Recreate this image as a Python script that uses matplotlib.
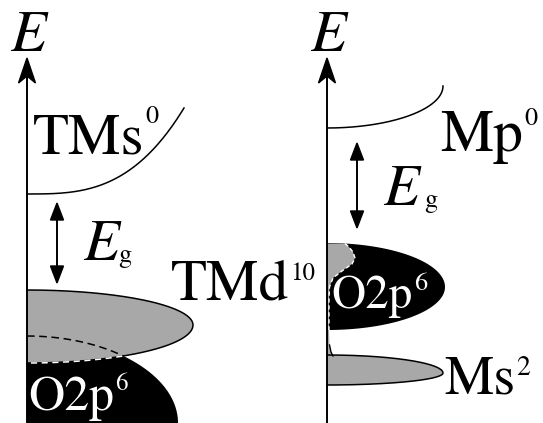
import numpy as np
import matplotlib.pyplot as plt
from matplotlib.patches import Polygon
from matplotlib import font_manager

SERIF_CANDIDATES = ['TeX Gyre Termes', 'STIX Two Text', 'Liberation Serif', 'DejaVu Serif']

# --- schematic values (pixel units, y grows downward) ---
axis_x = [27, 327]          # energy axes of the two panels
axis_tip_y = 58
bottom_y = 423

cb_min_y = [194, 128]       # conduction band minimum
cb_end_x = [184, 443]
cb_end_y = [108, 86]

gap_x = [57, 357]           # E_g double arrows
gap_top = [203, 143]
gap_bottom = [283, 228]

# bands: top edge, tip level, bottom edge, reach (x of tip)
tmd_band = [290, 325, 363, 193]        # TM d10, gray, left
o2p_right = [243, 287, 330, 445]       # O 2p6, black, right
ms_band = [355, 373, 385, 443]         # M s2, gray, right
# O 2p6 left: quarter ellipse standing on the bottom edge
o2p_l_top, o2p_l_reach = 336, 178
# M s weight mixed into the O 2p band (gray profile along right axis)
ms_dos_y = [243.5, 247, 252, 258, 264, 271, 278, 287, 300, 330, 345, 352, 356]
ms_dos_w = [18, 22, 26, 28, 25, 15, 6, 2.5, 2, 2, 2.5, 4, 6]

MAIN = 42.5
SUP = 19


def font_file(style):
    for name in SERIF_CANDIDATES:
        for f in font_manager.fontManager.ttflist:
            if f.name == name and f.style == style and f.weight in (400, 'normal', 'regular'):
                return f.fname
    return None


FILES = {st: font_file(st) for st in ('normal', 'italic')}


def fp(size, style='normal'):
    if FILES[style]:
        return font_manager.FontProperties(fname=FILES[style], size=size)
    return font_manager.FontProperties(family='serif', style=style, size=size)


fig = plt.figure(figsize=(5.43, 4.23), dpi=100)
ax = fig.add_axes([0, 0, 1, 1])
ax.set_xlim(0, 543)
ax.set_ylim(bottom_y, 0)
ax.axis('off')


def band_shape(x0, band, n=150):
    top, tip, bot, reach = band
    s = np.linspace(0, 1, n)
    ux = x0 + (reach - x0) * np.sin(s * np.pi / 2)
    uy = tip - (tip - top) * np.cos(s * np.pi / 2)
    lx = ux[::-1]
    ly = tip + (bot - tip) * np.cos(s[::-1] * np.pi / 2)
    return np.r_[ux, lx[1:]], np.r_[uy, ly[1:]]


# ---------- left panel ----------
x0 = axis_x[0]
s = np.linspace(0, 1, 300)
bx = x0 + (o2p_l_reach - x0) * np.sin(s * np.pi / 2)
by = bottom_y - (bottom_y - o2p_l_top) * np.cos(s * np.pi / 2)
ax.fill(np.r_[x0, bx, x0], np.r_[bottom_y, by, bottom_y], color='black', lw=0, zorder=1)

gx, gy = band_shape(x0, tmd_band)
ax.fill(np.r_[x0, gx, x0], np.r_[gy[0], gy, gy[-1]], facecolor='#a8a8a8',
        edgecolor='none', zorder=2)
ax.plot(gx, gy, color='black', lw=1.1, zorder=3)

# overlap: where the black top runs inside the gray band
low = gy > tmd_band[1]
gray_bottom = np.interp(bx, gx[low][::-1], gy[low][::-1])
inside = by < gray_bottom
ax.plot(bx[inside], by[inside], color='black', lw=1.1, ls=(0, (5, 3)), zorder=4)
xi = bx[inside].max()
m = low & (gx <= xi)
ax.plot(gx[m], gy[m], color='white', lw=1.1, ls=(0, (4, 3)), zorder=4)

t = np.linspace(0, 1, 200)
ax.plot(x0 + (cb_end_x[0] - x0) * t, cb_min_y[0] - (cb_min_y[0] - cb_end_y[0]) * t ** 3,
        color='black', lw=1.1, zorder=3)

# ---------- right panel ----------
x1 = axis_x[1]
rx, ry = band_shape(x1, o2p_right)
ax.fill(np.r_[x1, rx, x1], np.r_[ry[0], ry, ry[-1]], color='black', lw=0, zorder=1)

dy = np.array(ms_dos_y)
dw = np.array(ms_dos_w)
ax.fill(np.r_[x1, x1 + dw, x1], np.r_[dy[0], dy, dy[-1]], facecolor='#a8a8a8',
        edgecolor='none', zorder=2)
inb = dy <= o2p_right[2]
ax.plot(x1 + dw[inb], dy[inb], color='white', lw=1.0, ls=(0, (3, 2)), zorder=3)
ax.plot(x1 + dw[~inb], dy[~inb], color='black', lw=1.0, zorder=3)

mx, my = band_shape(x1, ms_band)
ax.fill(np.r_[x1, mx, x1], np.r_[my[0], my, my[-1]], facecolor='#a8a8a8',
        edgecolor='none', zorder=2)
ax.plot(mx, my, color='black', lw=1.1, zorder=3)

ax.plot(x1 + (cb_end_x[1] - x1) * np.sin(s * np.pi / 2),
        cb_end_y[1] + (cb_min_y[1] - cb_end_y[1]) * np.cos(s * np.pi / 2),
        color='black', lw=1.1, zorder=3)

# ---------- axes and gap arrows ----------
for xa in axis_x:
    ax.plot([xa, xa], [bottom_y, axis_tip_y + 12], color='black', lw=1.4, zorder=5)
    ax.add_patch(Polygon([(xa, axis_tip_y), (xa - 8.5, axis_tip_y + 25),
                          (xa, axis_tip_y + 18), (xa + 8.5, axis_tip_y + 25)],
                         closed=True, color='black', zorder=5))

for xg, yt, yb in zip(gap_x, gap_top, gap_bottom):
    ax.plot([xg, xg], [yt + 10, yb - 10], color='black', lw=1.4, zorder=5)
    ax.add_patch(Polygon([(xg, yt), (xg - 6.5, yt + 17), (xg + 6.5, yt + 17)],
                         closed=True, color='black', zorder=5))
    ax.add_patch(Polygon([(xg, yb), (xg - 6.5, yb - 17), (xg + 6.5, yb - 17)],
                         closed=True, color='black', zorder=5))

# ---------- labels ----------
renderer = fig.canvas.get_renderer()


def label(x, y, s, size, sup=None, sy=0, ssize=SUP, color='black', style='normal', gap=1.5):
    txt = ax.text(x, y, s, fontproperties=fp(size, style), color=color,
                  ha='left', va='baseline', zorder=6)
    if sup:
        bb = txt.get_window_extent(renderer)
        xe = ax.transData.inverted().transform((bb.x1, bb.y0))[0]
        ax.text(xe + gap, sy, sup, fontproperties=fp(ssize), color=color,
                ha='left', va='baseline', zorder=6)


for xa in axis_x:
    ax.text(xa + 1, 51, 'E', fontproperties=fp(MAIN, 'italic'), ha='center', va='baseline')

label(33, 153, 'TMs', MAIN, '0', 123)
label(171, 300, 'TMd', MAIN, '10', 280, 18)
label(28, 410, 'O2p', 36, '6', 390, 18, color='white')
label(440, 151, 'Mp', 43, '0', 125)
label(331, 308, 'O2p', 34, '6', 290, 19, color='white')
label(444, 393, 'Ms', 40, '2', 375, 20)

label(83, 260, 'E', MAIN, style='italic')
label(118, 262, 'g', SUP)
label(383, 205, 'E', MAIN, style='italic')
label(424, 207, 'g', SUP)

fig.savefig('out.png', dpi=100)
